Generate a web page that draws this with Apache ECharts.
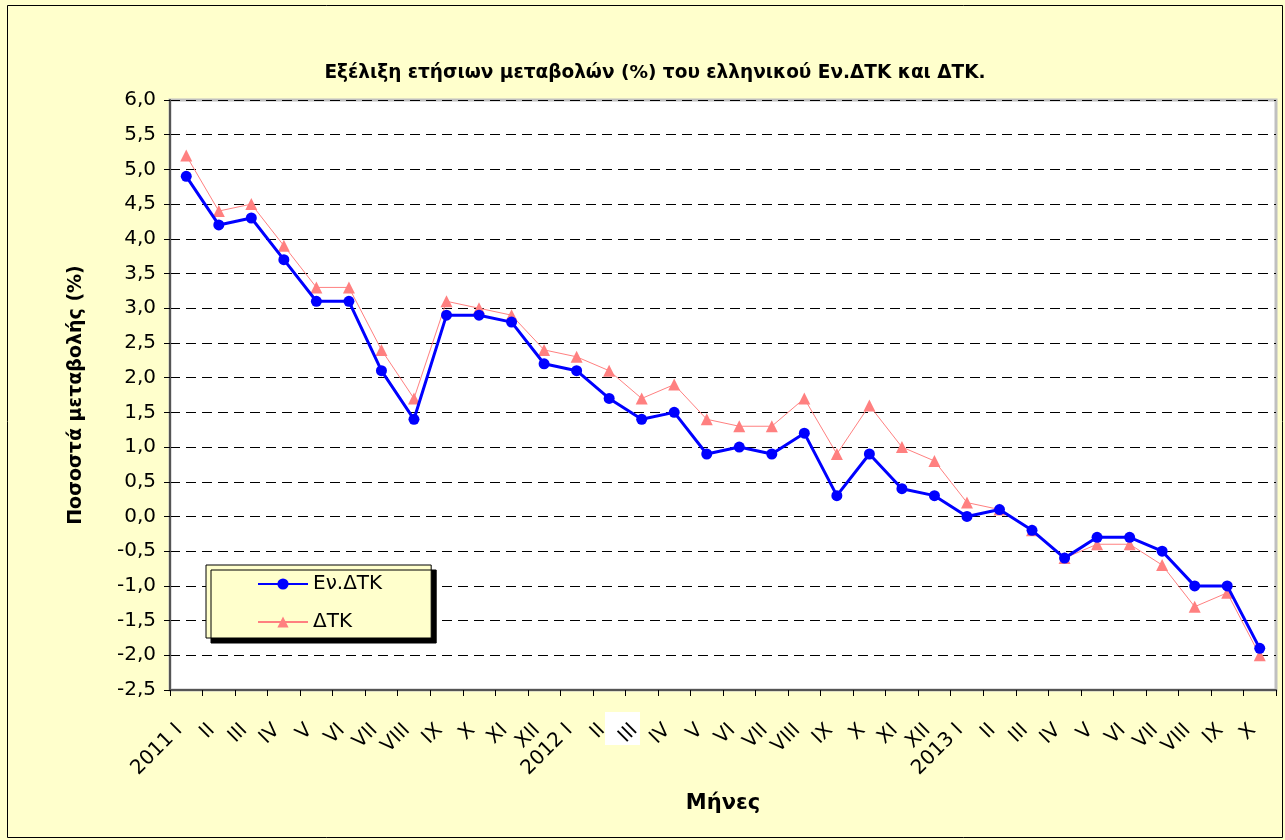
<!DOCTYPE html>
<html><head><meta charset="utf-8">
<script src="https://cdn.jsdelivr.net/npm/echarts@6/dist/echarts.min.js"></script>
<style>html,body{margin:0;padding:0;background:#fff}#c{width:1285px;height:840px}</style>
</head><body><div id="c"></div>
<script>
const categories = ['2011 I','II','III','IV','V','VI','VII','VIII','IX','X','XI','XII',
  '2012 I','II','III','IV','V','VI','VII','VIII','IX','X','XI','XII',
  '2013 I','II','III','IV','V','VI','VII','VIII','IX','X'];
const evdtk = [4.9,4.2,4.3,3.7,3.1,3.1,2.1,1.4,2.9,2.9,2.8,2.2,
  2.1,1.7,1.4,1.5,0.9,1.0,0.9,1.2,0.3,0.9,0.4,0.3,
  0.0,0.1,-0.2,-0.6,-0.3,-0.3,-0.5,-1.0,-1.0,-1.9];
const dtk = [5.2,4.4,4.5,3.9,3.3,3.3,2.4,1.7,3.1,3.0,2.9,2.4,
  2.3,2.1,1.7,1.9,1.4,1.3,1.3,1.7,0.9,1.6,1.0,0.8,
  0.2,0.1,-0.2,-0.6,-0.4,-0.4,-0.7,-1.3,-1.1,-2.0];
const FONT = '"DejaVu Sans", sans-serif';
const chart = echarts.init(document.getElementById('c'));
chart.setOption({
  backgroundColor: '#FFFFCC',
  animation: false,
  textStyle: {fontFamily: FONT},
  title: {
    text: 'Εξέλιξη ετήσιων μεταβολών (%) του ελληνικού Εν.ΔΤΚ και ΔΤΚ.',
    left: 650, top: 59, textAlign: 'center',
    textStyle: {fontSize: 18.5, fontWeight: 'bold', color: '#000', fontFamily: FONT}
  },
  graphic: [
    {type: 'rect', shape: {x: 7.5, y: 5.5, width: 1275, height: 832}, style: {fill: 'none', stroke: '#000', lineWidth: 1}, z: 100},
    {type: 'rect', shape: {x: 170, y: 100, width: 1106, height: 590}, style: {fill: '#fff', stroke: '#c0c0c0', lineWidth: 3}, z: -1},
    {type: 'rect', shape: {x: 605, y: 712, width: 35, height: 33}, style: {fill: '#fff'}, z: -1}
  ],
  legend: {
    orient: 'vertical', left: 206, top: 565,
    itemWidth: 50, itemHeight: 14, itemGap: 18,
    padding: [9, 49, 6, 51],
    backgroundColor: '#FFFFCC', borderColor: '#000', borderWidth: 1,
    shadowColor: '#000', shadowOffsetX: 5, shadowOffsetY: 5, shadowBlur: 0,
    textStyle: {fontSize: 20, lineHeight: 20, color: '#000', fontFamily: FONT},
    data: ['Εν.ΔΤΚ', 'ΔΤΚ']
  },
  grid: {left: 170, top: 100, width: 1106, height: 590, containLabel: false},
  xAxis: {
    type: 'category', data: categories, boundaryGap: true,
    name: 'Μήνες', nameLocation: 'middle', nameGap: 103,
    nameTextStyle: {fontSize: 21, fontWeight: 'bold', color: '#000', fontFamily: FONT},
    axisLine: {onZero: false, lineStyle: {color: '#555', width: 2}},
    axisTick: {show: true, alignWithLabel: false, length: 6, lineStyle: {color: '#000'}},
    axisLabel: {
      rotate: 45, fontSize: 20, color: '#000', interval: 0, margin: 30,
      padding: [0, 10, 0, 0]
    }
  },
  yAxis: {
    type: 'value', min: -2.5, max: 6.0, interval: 0.5,
    name: 'Ποσοστά μεταβολής (%)', nameLocation: 'middle', nameGap: 84, nameRotate: 90,
    nameTextStyle: {fontSize: 19, fontWeight: 'bold', color: '#000', fontFamily: FONT},
    axisLine: {show: true, lineStyle: {color: '#555', width: 2}},
    axisTick: {show: true, length: 6, lineStyle: {color: '#000'}},
    axisLabel: {fontSize: 20, color: '#000', margin: 14,
      formatter: v => v.toFixed(1).replace('.', ',')},
    splitLine: {show: true, lineStyle: {color: '#000', type: [10, 6], width: 1}}
  },
  series: [
    {name: 'Εν.ΔΤΚ', type: 'line', data: evdtk, symbol: 'circle', symbolSize: 11,
      lineStyle: {color: '#0000FF', width: 3}, itemStyle: {color: '#0000FF'}, z: 3},
    {name: 'ΔΤΚ', type: 'line', data: dtk, symbol: 'triangle', symbolSize: 12,
      lineStyle: {color: '#FF8080', width: 1}, itemStyle: {color: '#FF8080'}, z: 2}
  ]
});
</script></body></html>
